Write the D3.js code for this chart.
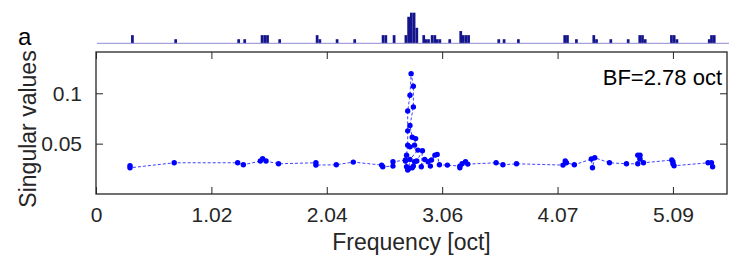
<!DOCTYPE html>
<html>
<head>
<meta charset="utf-8">
<script src="https://cdn.jsdelivr.net/npm/d3@7"></script>
<style>
    body { margin: 0; background: white; }
    text { font-family: "Liberation Sans", Arial, sans-serif; fill: #262626; }
</style>
</head>
<body>
<div id="chart"></div>
<script>

// points of the singular value curve (x in octaves), in plotting order
let freqOct = [0.30, 0.30, 0.69, 1.25, 1.30, 1.45, 1.47, 1.50, 1.61, 1.94, 1.94, 2.12, 2.27, 2.52, 2.53,
    2.62, 2.62, 2.73, 2.74, 2.75, 2.73, 2.74, 2.75, 2.75, 2.75, 2.77, 2.78, 2.80, 2.80, 2.77, 2.79, 2.82,
    2.81, 2.77, 2.84, 2.77, 2.76, 2.80, 2.79, 2.81, 2.83, 2.88, 2.87, 2.90, 2.93, 2.95, 2.96, 2.99, 3.01,
    3.03, 3.10, 3.21, 3.21, 3.23, 3.26, 3.28, 3.53, 3.59, 3.71, 4.12, 4.14, 4.15, 4.22, 4.37, 4.38, 4.40,
    4.53, 4.68, 4.78, 4.78, 4.80, 4.80, 4.83, 5.08, 5.09, 5.09, 5.10, 5.40, 5.43, 5.44];
let singVal = [0.028, 0.026, 0.031, 0.031, 0.029, 0.0327, 0.035, 0.0327, 0.030, 0.031, 0.0287, 0.029, 0.0317, 0.0287, 0.027,
    0.0277, 0.032, 0.0337, 0.027, 0.0238, 0.0327, 0.0386, 0.0485, 0.0627, 0.0825, 0.098, 0.1195, 0.107, 0.0865, 0.068, 0.0563, 0.055,
    0.0485, 0.0468, 0.0436, 0.0343, 0.0254, 0.0277, 0.026, 0.032, 0.0327, 0.0429, 0.027, 0.0343, 0.032, 0.0277, 0.0337, 0.0386, 0.0393,
    0.029, 0.0287, 0.0277, 0.026, 0.030, 0.032, 0.0297, 0.031, 0.029, 0.030, 0.0287, 0.0327, 0.031, 0.029, 0.0347, 0.026, 0.036,
    0.031, 0.030, 0.030, 0.0386, 0.0386, 0.0347, 0.031, 0.0337, 0.032, 0.030, 0.028, 0.031, 0.031, 0.027];

// histogram strip on top: bin start (oct) and height
let binWidth = 0.024;
let binStart = [0.300, 0.681, 1.236, 1.289, 1.442, 1.466, 1.490, 1.597, 1.927, 1.951, 2.103, 2.258, 2.508, 2.532,
    2.605, 2.709, 2.733, 2.757, 2.781, 2.805, 2.866, 2.884, 2.908, 2.940, 2.964, 2.984, 3.008, 3.095, 3.192,
    3.213, 3.237, 3.261, 3.527, 3.574, 3.700, 4.108, 4.132, 4.211, 4.364, 4.388, 4.514, 4.667, 4.769, 4.793,
    4.817, 5.048, 5.072, 5.096, 5.381, 5.401, 5.425];
let binCount = [2, 1, 1, 1, 2, 2, 2, 1, 2, 1, 1, 1, 2, 2,
    2, 2, 6.5, 7.5, 7.5, 3.8, 2, 1, 1, 2, 2, 1, 1, 1, 3,
    2, 2, 2, 1, 1, 1, 2, 2, 1, 2, 1, 1, 1, 2, 2,
    1, 2, 2, 1, 1, 2, 2];

let xTicks = [0, 1.018, 2.036, 3.054, 4.072, 5.09];
let xTickLabels = ["0", "1.02", "2.04", "3.06", "4.07", "5.09"];
let yTicks = [0.05, 0.1];
let yTickLabels = ["0.05", "0.1"];

let width = 747, height = 271;
let margin = {top: 52, right: 20, bottom: 77, left: 96};
let axisColor = "#262626";
let tickFont = "21px";
let labelFont = "23px";

let svg = d3.select("#chart").append("svg")
    .attr("width", width)
    .attr("height", height);

let x = d3.scaleLinear()
    .domain([0, 5.567])
    .range([margin.left, width - margin.right]);

let y = d3.scaleLinear()
    .domain([0, 0.141])
    .range([height - margin.bottom, margin.top]);

// top strip
let xs = d3.scaleLinear()
    .domain(x.domain())
    .range([97, 729]);
let ys = d3.scaleLinear()
    .domain([0, 7.5])
    .range([43.3, 12.7]);

svg.selectAll(".bin")
    .data(binStart)
    .enter().append("rect")
    .attr("class", "bin")
    .attr("x", d => xs(d))
    .attr("width", d => xs(d + binWidth) - xs(d))
    .attr("y", (d, i) => ys(binCount[i]))
    .attr("height", (d, i) => ys(0) - ys(binCount[i]))
    .attr("fill", "#14148c");

svg.append("line")
    .attr("x1", xs.range()[0])
    .attr("x2", xs.range()[1])
    .attr("y1", ys(0))
    .attr("y2", ys(0))
    .attr("stroke", "#8c8cd0")
    .attr("stroke-width", 1);

svg.append("text")
    .attr("x", 18)
    .attr("y", 44.5)
    .style("font-size", "24px")
    .style("fill", "black")
    .text("a");

// main plot frame + ticks (inward, like matlab)
let x0 = x.range()[0], x1 = x.range()[1];
let y0 = y.range()[0], y1 = y.range()[1];
let tickLen = 7;

let xAxis = d3.axisBottom(x).tickValues(xTicks).tickFormat((d, i) => xTickLabels[i])
    .tickSizeInner(-tickLen).tickSizeOuter(0).tickPadding(tickLen + 6);
let xAxisTop = d3.axisTop(x).tickValues(xTicks).tickFormat("")
    .tickSizeInner(-tickLen).tickSizeOuter(0);
let yAxis = d3.axisLeft(y).tickValues(yTicks).tickFormat((d, i) => yTickLabels[i])
    .tickSizeInner(-tickLen).tickSizeOuter(0).tickPadding(tickLen + 7);
let yAxisRight = d3.axisRight(y).tickValues(yTicks).tickFormat("")
    .tickSizeInner(-tickLen).tickSizeOuter(0);

svg.append("g").attr("class", "axis").attr("transform", "translate(0," + y0 + ")").call(xAxis);
svg.append("g").attr("class", "axis").attr("transform", "translate(0," + y1 + ")").call(xAxisTop);
svg.append("g").attr("class", "axis").attr("transform", "translate(" + x0 + ",0)").call(yAxis);
svg.append("g").attr("class", "axis").attr("transform", "translate(" + x1 + ",0)").call(yAxisRight);

svg.selectAll(".axis path").remove();
svg.selectAll(".axis line").attr("stroke", axisColor).attr("stroke-width", 1);
svg.selectAll(".axis text")
    .style("font-size", tickFont)
    .style("font-family", "'Liberation Sans', Arial, sans-serif")
    .attr("fill", axisColor);

svg.append("rect")
    .attr("x", x0)
    .attr("y", y1)
    .attr("width", x1 - x0)
    .attr("height", y0 - y1)
    .attr("fill", "none")
    .attr("stroke", axisColor)
    .attr("stroke-width", 1.3);

// curve
let pts = freqOct.map((f, i) => [f, singVal[i]]);

svg.append("path")
    .datum(pts)
    .attr("d", d3.line().x(d => x(d[0])).y(d => y(d[1])))
    .attr("fill", "none")
    .attr("stroke", "#4040ff")
    .attr("stroke-width", 1)
    .attr("stroke-dasharray", "3,2");

svg.selectAll(".dot")
    .data(pts)
    .enter().append("circle")
    .attr("class", "dot")
    .attr("cx", d => x(d[0]))
    .attr("cy", d => y(d[1]))
    .attr("r", 2.7)
    .attr("fill", "#0000ff");

svg.append("text")
    .attr("x", x1 - 5)
    .attr("y", 85)
    .attr("text-anchor", "end")
    .style("font-size", "22px")
    .style("fill", "black")
    .text("BF=2.78 oct");

// axis labels
svg.append("text")
    .attr("x", (x0 + x1) / 2)
    .attr("y", 250)
    .attr("text-anchor", "middle")
    .style("font-size", labelFont)
    .text("Frequency [oct]");

svg.append("text")
    .attr("transform", "translate(36," + ((y0 + y1) / 2 + 6) + ") rotate(-90)")
    .attr("text-anchor", "middle")
    .style("font-size", labelFont)
    .text("Singular values");

</script>
</body>
</html>
